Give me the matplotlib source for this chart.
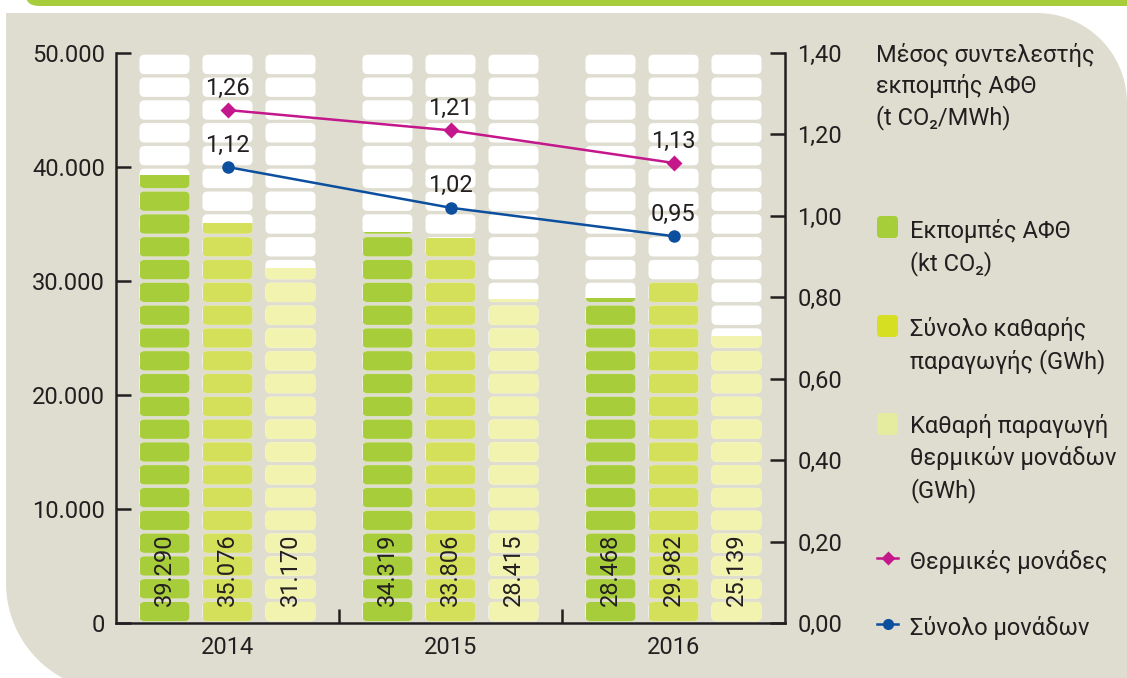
import matplotlib
matplotlib.use("Agg")
import numpy as np
import matplotlib.pyplot as plt
from matplotlib.patches import FancyBboxPatch, Polygon
from matplotlib.ticker import FuncFormatter, FixedLocator

# data
years = ["2014", "2015", "2016"]
emissions = [39290, 34319, 28468]       # kt CO2
net_total = [35076, 33806, 29982]       # GWh
net_thermal = [31170, 28415, 25139]     # GWh
factor_thermal = [1.26, 1.21, 1.13]     # t CO2/MWh
factor_total = [1.12, 1.02, 0.95]

legend_title = ["Μέσος συντελεστής", "εκπομπής ΑΦΘ", "(t CO\u2082/MWh)"]
legend_bars = [["Εκπομπές ΑΦΘ", "(kt CO\u2082)"],
               ["Σύνολο καθαρής", "παραγωγής (GWh)"],
               ["Καθαρή παραγωγή", "θερμικών μονάδων", "(GWh)"]]
legend_lines = ["Θερμικές μονάδες", "Σύνολο μονάδων"]

bar_cols = ["#a8cd3b", "#d5e05a", "#f2f3ae"]
leg_cols = ["#a6ce39", "#d7df23", "#e5eb9f"]
c_thermal = "#c4178c"
c_total = "#0b4f9e"
ink = "#231f20"
panel = "#dfddd0"

plt.rcParams['font.family'] = ['Roboto', 'DejaVu Sans']
FS = 17

W, H = 1127, 678
fig = plt.figure(figsize=(W / 100, H / 100), dpi=100)
fig.patch.set_facecolor("white")

# background decoration in pixel coordinates
bg = fig.add_axes([0, 0, 1, 1])
bg.set_xlim(0, W)
bg.set_ylim(H, 0)
bg.axis("off")

pts = [(6, 13)]
t = np.linspace(np.pi / 2, 0, 30)
pts += list(zip(1037 + 90 * np.cos(t), 103 - 90 * np.sin(t)))
pts += [(W + 5, H + 30)]
s = np.linspace(np.pi / 2, np.pi, 30)
pts += list(zip(114 + 108 * np.cos(s), 583 + 108 * np.sin(s)))
bg.add_patch(Polygon(pts, closed=True, facecolor=panel, edgecolor="none"))
bg.add_patch(FancyBboxPatch((25, -40), 1200, 46, boxstyle="round,pad=0,rounding_size=14",
                            facecolor="#a8cd3a", edgecolor="none"))

# legend
for i, line in enumerate(legend_title):
    bg.text(876, 62 + 31 * i, line, fontsize=FS, color=ink, va="baseline")
sq_tops = [216, 315, 413]
txt_base = [238, 336, 433]
for k in range(3):
    bg.add_patch(FancyBboxPatch((877, sq_tops[k]), 21, 22, boxstyle="round,pad=0,rounding_size=4",
                                facecolor=leg_cols[k], edgecolor="none"))
    for i, line in enumerate(legend_bars[k]):
        bg.text(910, txt_base[k] + 32 * i, line, fontsize=FS, color=ink, va="baseline")
for k, (c, m, ms) in enumerate([(c_thermal, "D", 7), (c_total, "o", 8)]):
    yy = [558, 624][k]
    bg.plot([877, 898], [yy, yy], color=c, lw=1.8)
    bg.plot([887.5], [yy], marker=m, color=c, ms=ms, mec="none")
    bg.text(910, yy + 11, legend_lines[k], fontsize=FS, color=ink, va="baseline")

# main axes
ax = fig.add_axes([116 / W, 55 / H, 669 / W, 570 / H])
ax.set_zorder(1)
ax.patch.set_visible(False)
ax.set_xlim(-0.5, 2.5)
ax.set_ylim(0, 50000)

x = np.arange(len(years))
off = 63 / 223
bw = 50 / 223
seg = 2000
half_gap = 150
aspect = (669 / 3) / (570 / 50000)
round_r = 5 / 223

series = [emissions, net_total, net_thermal]
for j, vals in enumerate(series):
    for i, v in enumerate(vals):
        xc = x[i] + (j - 1) * off
        for k in range(25):
            lo = k * seg
            shape = FancyBboxPatch((xc - bw / 2, lo + half_gap), bw, seg - 2 * half_gap,
                                   boxstyle=f"round,pad=0,rounding_size={round_r}",
                                   mutation_aspect=aspect, facecolor="white",
                                   edgecolor="none", zorder=2)
            ax.add_patch(shape)
            if v > lo:
                b = ax.bar(xc, min(v, lo + seg) - lo, bottom=lo, width=bw,
                           color=bar_cols[j], zorder=3)
                b[0].set_clip_path(shape)
        ax.text(xc, 1450, f"{v:,}".replace(",", "."), rotation=90, ha="center", va="bottom",
                fontsize=FS, color=ink, zorder=4)

for sp in ["top", "right"]:
    ax.spines[sp].set_visible(False)
for sp in ["left", "bottom"]:
    ax.spines[sp].set_linewidth(1.8)
    ax.spines[sp].set_color(ink)

ax.set_yticks(np.arange(0, 50001, 10000))
ax.yaxis.set_major_formatter(FuncFormatter(lambda v, p: f"{int(v):,}".replace(",", ".")))
ax.tick_params(axis="y", direction="in", length=11, width=1.8, color=ink,
               labelsize=FS, labelcolor=ink, pad=8)
ax.set_xticks(x)
ax.set_xticklabels(years)
ax.xaxis.set_minor_locator(FixedLocator([0.5, 1.5]))
ax.tick_params(axis="x", which="major", length=0, labelsize=FS, labelcolor=ink, pad=9)
ax.tick_params(axis="x", which="minor", direction="in", length=10, width=1.8, color=ink)

# emission factor lines
ax2 = ax.twinx()
ax2.set_zorder(2)
ax2.patch.set_visible(False)
ax2.set_ylim(0, 1.4)
for sp in ["top", "left", "bottom"]:
    ax2.spines[sp].set_visible(False)
ax2.spines["right"].set_linewidth(1.8)
ax2.spines["right"].set_color(ink)
ax2.set_yticks(np.arange(0, 1.41, 0.2))
ax2.yaxis.set_major_formatter(FuncFormatter(lambda v, p: f"{v:.2f}".replace(".", ",")))
ax2.tick_params(axis="y", direction="in", length=11, width=1.8, color=ink,
                labelsize=FS, labelcolor=ink, pad=9)

ax2.plot(x, factor_thermal, color=c_thermal, lw=1.8, marker="D", ms=8, mec="none")
ax2.plot(x, factor_total, color=c_total, lw=1.8, marker="o", ms=9, mec="none")
for vals in [factor_thermal, factor_total]:
    for xi, v in zip(x, vals):
        ax2.annotate(f"{v:.2f}".replace(".", ","), (xi, v), xytext=(0, 11),
                     textcoords="offset points", ha="center", va="baseline",
                     fontsize=FS, color=ink)

fig.savefig("out.png", dpi=100, facecolor=fig.get_facecolor())
